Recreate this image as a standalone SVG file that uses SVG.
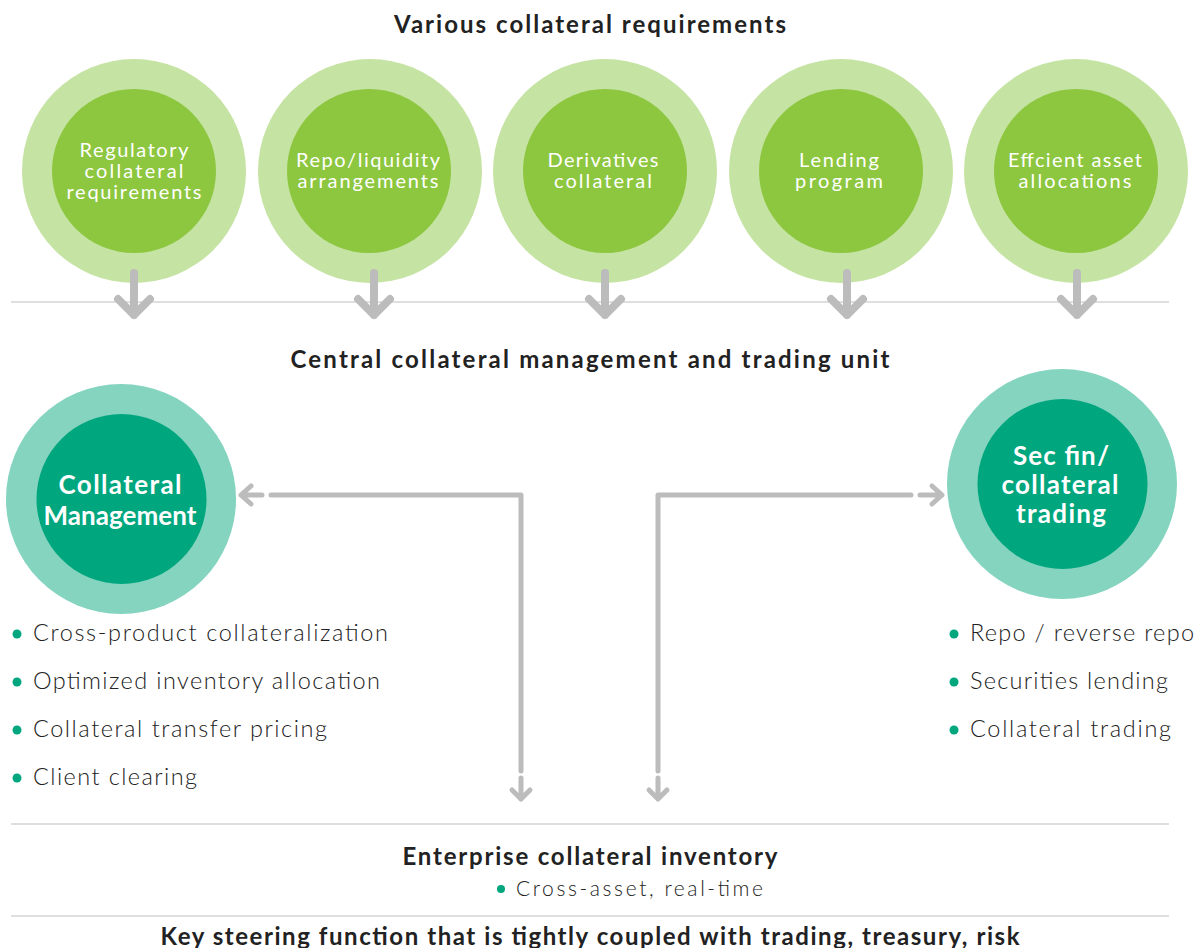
<svg xmlns="http://www.w3.org/2000/svg" width="1196" height="948" viewBox="0 0 1196 948">
<style>
.bg{fill:#ffffff}
.o1{fill:#c5e3a2}
.i1{fill:#8dc63f}
.o2{fill:#84d4bf}
.i2{fill:#00a67e}
.rule{stroke:#d4d4d4;stroke-width:1.6;fill:none}
.big{stroke:#bcbcbc;stroke-width:8;stroke-linecap:round;stroke-linejoin:round;fill:none}
.con{stroke:#bcbcbc;stroke-width:5;stroke-linecap:round;stroke-linejoin:round;fill:none}
.h{font-family:Lato,"Liberation Sans",sans-serif;font-weight:700;font-size:24px;fill:#222;text-anchor:middle}
.ct{font-family:Lato,"Liberation Sans",sans-serif;font-size:20px;fill:#fff;text-anchor:middle}
.cb{font-family:Lato,"Liberation Sans",sans-serif;font-weight:700;font-size:26px;fill:#fff;text-anchor:middle}
.b{font-family:Lato,"Liberation Sans",sans-serif;font-weight:300;font-size:23.5px;fill:#222}
.bs{font-family:Lato,"Liberation Sans",sans-serif;font-weight:300;font-size:21px;fill:#222}
.dot{fill:#00a67e}
</style>
<rect class="bg" width="1196" height="948"/>

<g id="title-top"><text class="h" x="590" y="33" textLength="392">Various collateral requirements</text></g>

<g id="rules">
<line class="rule" x1="11" y1="302" x2="1169" y2="302"/>
<line class="rule" x1="11" y1="824" x2="1169" y2="824"/>
<line class="rule" x1="11" y1="916" x2="1169" y2="916"/>
</g>

<g id="n-regulatory">
<circle class="o1" cx="134" cy="171" r="112"/>
<circle class="i1" cx="134" cy="171" r="82"/>
<text class="ct" x="134" y="157" textLength="109">Regulatory</text>
<text class="ct" x="134" y="178" textLength="99">collateral</text>
<text class="ct" x="134" y="199" textLength="135">requirements</text>
</g>
<g id="n-repo">
<circle class="o1" cx="370" cy="171" r="112"/>
<circle class="i1" cx="369" cy="171" r="82"/>
<text class="ct" x="368" y="167" textLength="144">Repo/liquidity</text>
<text class="ct" x="368" y="188" textLength="141">arrangements</text>
</g>
<g id="n-derivatives">
<circle class="o1" cx="605" cy="171" r="112"/>
<circle class="i1" cx="605" cy="171" r="82"/>
<text class="ct" x="603" y="167" textLength="111">Derivatives</text>
<text class="ct" x="603" y="188" textLength="98">collateral</text>
</g>
<g id="n-lending">
<circle class="o1" cx="841" cy="171" r="112"/>
<circle class="i1" cx="841" cy="171" r="82"/>
<text class="ct" x="839" y="167" textLength="80">Lending</text>
<text class="ct" x="839" y="188" textLength="88">program</text>
</g>
<g id="n-efficient">
<circle class="o1" cx="1076" cy="171" r="112"/>
<circle class="i1" cx="1076" cy="171" r="82"/>
<text class="ct" x="1075" y="167" textLength="134">Effcient asset</text>
<text class="ct" x="1075" y="188" textLength="113">allocations</text>
</g>

<g id="top-arrows">
<path class="big" d="M134 273V315M118 299L134 315L150 299"/>
<path class="big" d="M374 273V315M358 299L374 315L390 299"/>
<path class="big" d="M605 273V315M589 299L605 315L621 299"/>
<path class="big" d="M847 273V315M831 299L847 315L863 299"/>
<path class="big" d="M1077 273V315M1061 299L1077 315L1093 299"/>
</g>

<g id="title-mid"><text class="h" x="590" y="368" textLength="599">Central collateral management and trading unit</text></g>

<g id="n-collmgmt">
<circle class="o2" cx="121" cy="499" r="115"/>
<circle class="i2" cx="121.5" cy="499" r="85"/>
<text class="cb" x="120" y="494" textLength="123">Collateral</text>
<text class="cb" x="120" y="525" textLength="153">Management</text>
</g>
<g id="n-secfin">
<circle class="o2" cx="1062" cy="484" r="115"/>
<circle class="i2" cx="1062.5" cy="484" r="85"/>
<text class="cb" x="1061" y="465" textLength="96">Sec fin/</text>
<text class="cb" x="1060" y="494" textLength="117">collateral</text>
<text class="cb" x="1061" y="523" textLength="90">trading</text>
</g>

<g id="connectors">
<path class="con" d="M521 771V495H271"/>
<path class="con" d="M262 495H241M251 486L241 495L251 504"/>
<path class="con" d="M521 778V799M512 790L521 799L530 790"/>
<path class="con" d="M658 771V495H911"/>
<path class="con" d="M920 495H942M932 486L942 495L932 504"/>
<path class="con" d="M658 778V799M649 790L658 799L667 790"/>
</g>

<g id="list-left">
<circle class="dot" cx="17" cy="634" r="4.5"/>
<text class="b" x="33" y="641" textLength="355">Cross-product collateralization</text>
<circle class="dot" cx="17" cy="682" r="4.5"/>
<text class="b" x="33" y="689" textLength="347">Optimized inventory allocation</text>
<circle class="dot" cx="17" cy="730" r="4.5"/>
<text class="b" x="33" y="737" textLength="294">Collateral transfer pricing</text>
<circle class="dot" cx="17" cy="778" r="4.5"/>
<text class="b" x="33" y="785" textLength="164">Client clearing</text>
</g>
<g id="list-right">
<circle class="dot" cx="954" cy="634" r="4.5"/>
<text class="b" x="970" y="641" textLength="224">Repo / reverse repo</text>
<circle class="dot" cx="954" cy="682" r="4.5"/>
<text class="b" x="970" y="689" textLength="198">Securities lending</text>
<circle class="dot" cx="954" cy="730" r="4.5"/>
<text class="b" x="970" y="737" textLength="201">Collateral trading</text>
</g>

<g id="n-inventory">
<text class="h" x="590" y="865" textLength="375">Enterprise collateral inventory</text>
<circle class="dot" cx="501" cy="889" r="4"/>
<text class="bs" x="516" y="896" textLength="247">Cross-asset, real-time</text>
</g>

<g id="title-bottom"><text class="h" x="590" y="945" textLength="859">Key steering function that is tightly coupled with trading, treasury, risk</text></g>
</svg>
